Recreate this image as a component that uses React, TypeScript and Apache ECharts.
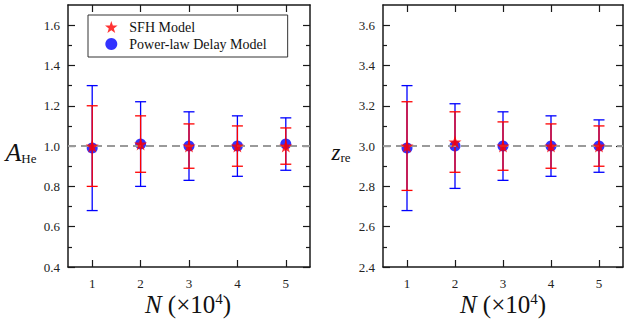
import React, { useEffect, useRef } from "react";
import * as echarts from "echarts";

// ---- data ----
const xValues = [1, 2, 3, 4, 5];
const xTicks = [1, 2, 3, 4, 5];

// A_He panel
const aHeSfh = [1.0, 1.01, 1.0, 1.0, 1.0];
const aHeSfhLow = [0.8, 0.87, 0.89, 0.9, 0.91];
const aHeSfhHigh = [1.2, 1.15, 1.11, 1.1, 1.09];
const aHePl = [0.99, 1.01, 1.0, 1.0, 1.01];
const aHePlLow = [0.68, 0.8, 0.83, 0.85, 0.88];
const aHePlHigh = [1.3, 1.22, 1.17, 1.15, 1.14];
const aHeMajorTicks = [0.4, 0.6, 0.8, 1.0, 1.2, 1.4, 1.6];
const aHeMinorTicks = [0.5, 0.7, 0.9, 1.1, 1.3, 1.5];
const aHeRef = 1.0;

// z_re panel
const zreSfh = [3.0, 3.02, 3.0, 3.0, 3.0];
const zreSfhLow = [2.78, 2.87, 2.88, 2.89, 2.9];
const zreSfhHigh = [3.22, 3.17, 3.12, 3.11, 3.1];
const zrePl = [2.99, 3.0, 3.0, 3.0, 3.0];
const zrePlLow = [2.68, 2.79, 2.83, 2.85, 2.87];
const zrePlHigh = [3.3, 3.21, 3.17, 3.15, 3.13];
const zreMajorTicks = [2.4, 2.6, 2.8, 3.0, 3.2, 3.4, 3.6];
const zreMinorTicks = [2.5, 2.7, 2.9, 3.1, 3.3, 3.5];
const zreRef = 3.0;

const SERIF = "Liberation Serif, Times New Roman, serif";
const RED = "#ff0000";
const BLUE = "#0000ff";
const FRAME = "#1a1a1a";

function starPath(): string {
  const pts: string[] = [];
  for (let i = 0; i < 10; i++) {
    const ang = -Math.PI / 2 + (i * Math.PI) / 5;
    const r = i % 2 === 0 ? 1 : 0.4;
    pts.push(`${(r * Math.cos(ang)).toFixed(4)} ${(r * Math.sin(ang)).toFixed(4)}`);
  }
  return "path://M" + pts.join(" L") + " Z";
}
const STAR = starPath();

function errorRender(color: string) {
  return (params: any, api: any) => {
    const x = api.value(0);
    const lo = api.value(1);
    const hi = api.value(2);
    const p1 = api.coord([x, lo]);
    const p2 = api.coord([x, hi]);
    const w = 5.5;
    const style = { stroke: color, lineWidth: 1.3 };
    return {
      type: "group",
      children: [
        { type: "line", shape: { x1: p1[0], y1: p1[1], x2: p2[0], y2: p2[1] }, style },
        { type: "line", shape: { x1: p1[0] - w, y1: p1[1], x2: p1[0] + w, y2: p1[1] }, style },
        { type: "line", shape: { x1: p2[0] - w, y1: p2[1], x2: p2[0] + w, y2: p2[1] }, style },
      ],
    };
  };
}

function xAxes(gridIndex: number) {
  const common = {
    gridIndex,
    type: "value",
    min: 0.5,
    max: 5.5,
    splitLine: { show: false },
    axisLine: { show: true, onZero: false, lineStyle: { color: FRAME, width: 1.5 } },
    axisTick: { show: true, inside: true, length: 7, customValues: xTicks, lineStyle: { color: FRAME, width: 1.2 } },
  };
  return [
    {
      ...common,
      position: "bottom",
      axisLabel: { show: true, customValues: xTicks, margin: 10, fontSize: 13, color: "#222", fontFamily: SERIF },
    },
    { ...common, position: "top", axisLabel: { show: false } },
  ];
}

function yAxes(gridIndex: number, min: number, max: number, major: number[], minor: number[]) {
  const base = { gridIndex, type: "value", min, max, splitLine: { show: false } };
  const line = { show: true, onZero: false, lineStyle: { color: FRAME, width: 1.5 } };
  const majorTick = { show: true, inside: true, length: 7, customValues: major, lineStyle: { color: FRAME, width: 1.2 } };
  const minorTick = { show: true, inside: true, length: 4, customValues: minor, lineStyle: { color: FRAME, width: 1.2 } };
  return [
    {
      ...base,
      position: "left",
      axisLine: line,
      axisTick: majorTick,
      axisLabel: {
        show: true,
        customValues: major,
        margin: 8,
        fontSize: 13,
        color: "#222",
        fontFamily: SERIF,
        formatter: (v: number) => v.toFixed(1),
      },
    },
    { ...base, position: "left", axisLine: { show: false }, axisTick: minorTick, axisLabel: { show: false } },
    { ...base, position: "right", axisLine: line, axisTick: majorTick, axisLabel: { show: false } },
    { ...base, position: "right", axisLine: { show: false }, axisTick: minorTick, axisLabel: { show: false } },
  ];
}

function panelSeries(
  xIdx: number,
  yIdx: number,
  ref: number,
  sfh: number[],
  sfhLo: number[],
  sfhHi: number[],
  pl: number[],
  plLo: number[],
  plHi: number[]
) {
  return [
    {
      name: "pl-err",
      type: "custom",
      xAxisIndex: xIdx,
      yAxisIndex: yIdx,
      renderItem: errorRender(BLUE),
      data: xValues.map((x, i) => [x, plLo[i], plHi[i]]),
      encode: { x: 0, y: [1, 2] },
      z: 2,
      markLine: {
        silent: true,
        symbol: "none",
        label: { show: false },
        lineStyle: { type: [8, 5], color: "#9a9a9a", width: 2 },
        data: [{ yAxis: ref }],
      },
    },
    {
      name: "Power-law Delay Model",
      type: "scatter",
      xAxisIndex: xIdx,
      yAxisIndex: yIdx,
      symbol: "circle",
      symbolSize: 11,
      itemStyle: { color: BLUE },
      data: xValues.map((x, i) => [x, pl[i]]),
      z: 3,
    },
    {
      name: "sfh-err",
      type: "custom",
      xAxisIndex: xIdx,
      yAxisIndex: yIdx,
      renderItem: errorRender(RED),
      data: xValues.map((x, i) => [x, sfhLo[i], sfhHi[i]]),
      encode: { x: 0, y: [1, 2] },
      z: 4,
    },
    {
      name: "SFH Model",
      type: "scatter",
      xAxisIndex: xIdx,
      yAxisIndex: yIdx,
      symbol: STAR,
      symbolSize: 13,
      itemStyle: { color: RED },
      data: xValues.map((x, i) => [x, sfh[i]]),
      z: 5,
    },
  ];
}

function xName(cx: number) {
  return {
    type: "text",
    x: cx,
    y: 304,
    style: {
      text: "{i|N}{r| (×10}{s|4}{r|)}",
      align: "center",
      verticalAlign: "middle",
      fill: "#111",
      rich: {
        i: { fontSize: 25, fontStyle: "italic", fontFamily: SERIF, fill: "#111", lineHeight: 26 },
        r: { fontSize: 25, fontFamily: SERIF, fill: "#111", lineHeight: 26 },
        s: { fontSize: 15, fontFamily: SERIF, fill: "#111", verticalAlign: "top", lineHeight: 15 },
      },
    },
  };
}

function yName(cx: number, cy: number, main: string, sub: string, mainSize: number, subPad: number) {
  return {
    type: "text",
    x: cx,
    y: cy,
    style: {
      text: `{a|${main}}{b|${sub}}`,
      align: "center",
      verticalAlign: "middle",
      rich: {
        a: { fontSize: mainSize, lineHeight: mainSize, fontStyle: "italic", fontFamily: SERIF, fill: "#111", verticalAlign: "top" },
        b: { fontSize: 13, lineHeight: 13, fontFamily: SERIF, fill: "#111", verticalAlign: "bottom", padding: [subPad, 0, 0, 0] },
      },
    },
  };
}

export default function App() {
  const ref = useRef<HTMLDivElement>(null);
  useEffect(() => {
    if (!ref.current) return;
    const chart = echarts.init(ref.current, undefined, { renderer: "svg" });
    const option: any = {
      animation: false,
      backgroundColor: "#ffffff",
      grid: [
        { left: 68, top: 5, width: 242, height: 262 },
        { left: 383, top: 5, width: 240, height: 262 },
      ],
      xAxis: [...xAxes(0), ...xAxes(1)],
      yAxis: [
        ...yAxes(0, 0.4, 1.7, aHeMajorTicks, aHeMinorTicks),
        ...yAxes(1, 2.4, 3.7, zreMajorTicks, zreMinorTicks),
      ],
      legend: {
        show: true,
        left: 88,
        top: 15,
        orient: "vertical",
        padding: [5, 21, 6, 17],
        itemGap: 3,
        itemWidth: 26,
        itemHeight: 12,
        borderColor: "#333",
        borderWidth: 1,
        selectedMode: false,
        textStyle: { fontFamily: SERIF, fontSize: 14, color: "#111" },
        data: [
          { name: "SFH Model", icon: STAR, itemStyle: { color: RED } },
          { name: "Power-law Delay Model", icon: "circle", itemStyle: { color: BLUE } },
        ],
      },
      series: [
        ...panelSeries(0, 0, aHeRef, aHeSfh, aHeSfhLow, aHeSfhHigh, aHePl, aHePlLow, aHePlHigh),
        ...panelSeries(2, 4, zreRef, zreSfh, zreSfhLow, zreSfhHigh, zrePl, zrePlLow, zrePlHigh),
      ],
      graphic: [
        xName(188),
        xName(503),
        yName(21, 152, "A", "He", 26, 19),
        yName(341, 152, "z", "re", 23, 14),
      ],
    };
    chart.setOption(option);
    return () => chart.dispose();
  }, []);
  return (
    <div
      ref={ref}
      style={{ position: "fixed", left: 0, top: 0, width: 625, height: 322, background: "#fff" }}
    />
  );
}
